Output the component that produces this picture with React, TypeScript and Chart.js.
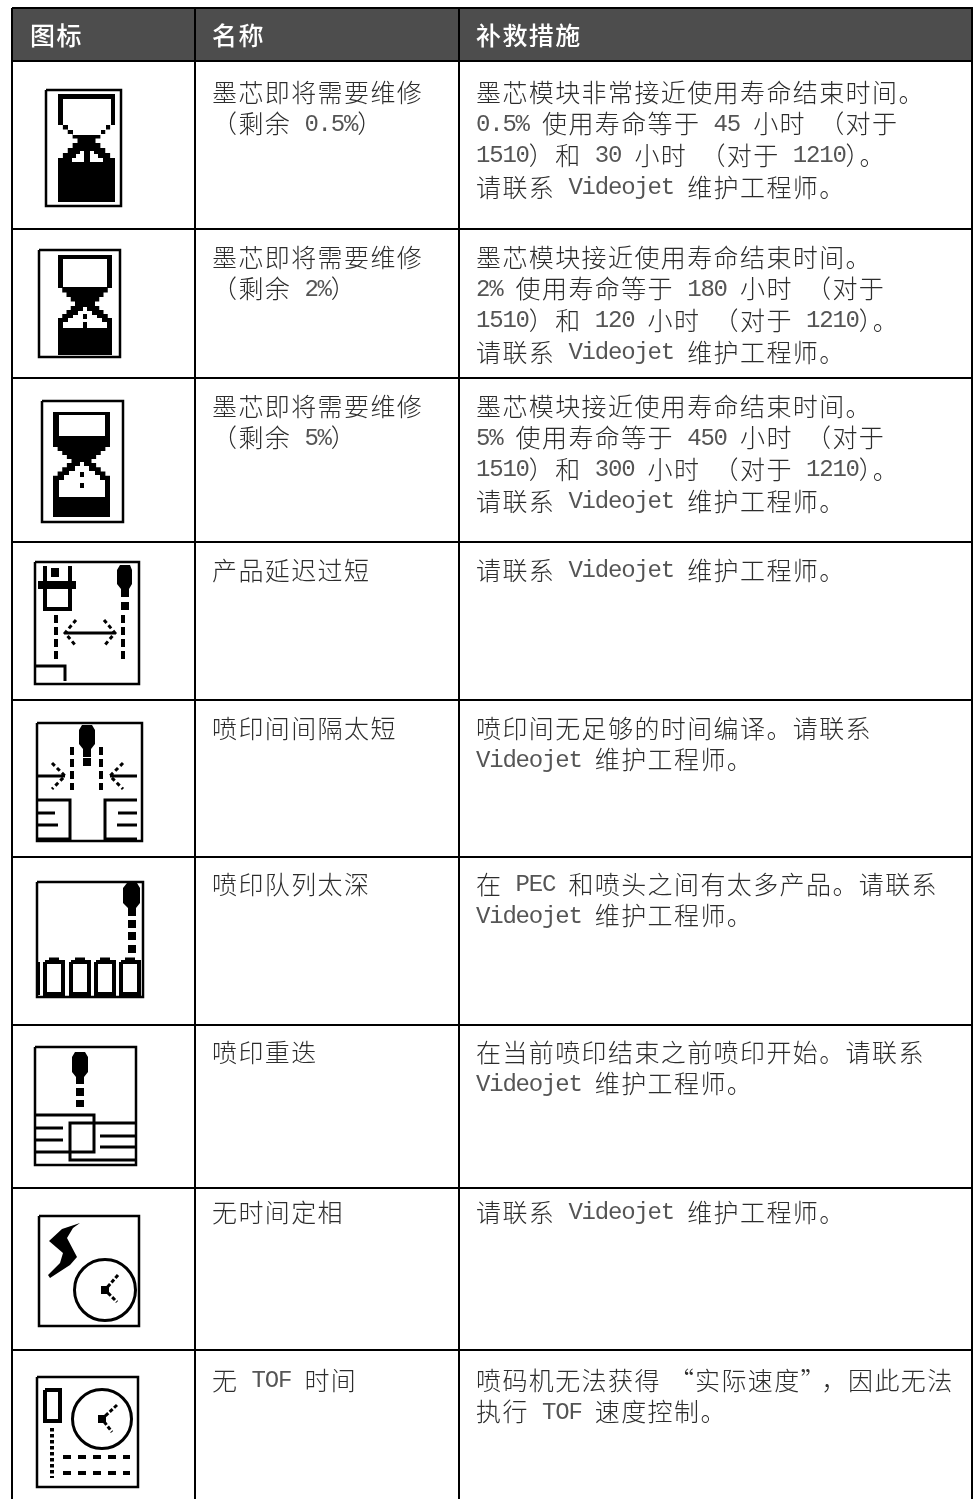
import React, { useEffect, useRef } from "react";
import { Chart, registerables } from "chart.js";

Chart.register(...registerables);

type P = [number, number];

const columnLines = [12, 195, 459, 972];
const rowLines = [8, 61, 229, 378, 542, 700, 857, 1025, 1188, 1350];

const headers = ["图标", "名称", "补救措施"];
const textColumns = [212, 476];
const headerColumns = [30, 212, 476];
const firstLineCentres = [92, 257, 406, 570, 728, 884, 1052, 1212, 1380];
const lineCentreOffsets = [0, 31.5, 63, 95];

const names = [
  ["墨芯即将需要维修", "（剩余 0.5%）"],
  ["墨芯即将需要维修", "（剩余 2%）"],
  ["墨芯即将需要维修", "（剩余 5%）"],
  ["产品延迟过短"],
  ["喷印间间隔太短"],
  ["喷印队列太深"],
  ["喷印重迭"],
  ["无时间定相"],
  ["无 TOF 时间"],
];
const remedies = [
  ["墨芯模块非常接近使用寿命结束时间。", "0.5% 使用寿命等于 45 小时 （对于", "1510）和 30 小时 （对于 1210）。", "请联系 Videojet 维护工程师。"],
  ["墨芯模块接近使用寿命结束时间。", "2% 使用寿命等于 180 小时 （对于", "1510）和 120 小时 （对于 1210）。", "请联系 Videojet 维护工程师。"],
  ["墨芯模块接近使用寿命结束时间。", "5% 使用寿命等于 450 小时 （对于", "1510）和 300 小时 （对于 1210）。", "请联系 Videojet 维护工程师。"],
  ["请联系 Videojet 维护工程师。"],
  ["喷印间无足够的时间编译。请联系", "Videojet 维护工程师。"],
  ["在 PEC 和喷头之间有太多产品。请联系", "Videojet 维护工程师。"],
  ["在当前喷印结束之前喷印开始。请联系", "Videojet 维护工程师。"],
  ["请联系 Videojet 维护工程师。"],
  ["喷码机无法获得 “实际速度”，因此无法", "执行 TOF 速度控制。"],
];

const iconFrames: [number, number, number, number][] = [
  [46, 90, 121, 206],
  [39, 250, 120, 357],
  [42, 401, 123, 522],
  [35, 562, 139, 684],
  [37, 723, 142, 841],
  [37, 882, 143, 997],
  [35, 1047, 136, 1165],
  [39, 1216, 139, 1326],
  [37, 1377, 138, 1487],
];

// left, right, top, side end, waist, side start, bottom, waist half-width
const hourglasses = [
  [58, 115, 94, 125, 143, 163, 202, 9],
  [58, 112, 255, 288, 306, 322, 355, 10],
  [53, 110, 412, 447, 463, 480, 517, 10],
];

const blackShapes: P[][] = [
  [[38, 581], [76, 581], [76, 589], [38, 589]],
  [[51, 568], [59, 568], [59, 577], [51, 577]],
  [[120, 565], [130, 565], [132, 570], [132, 584], [129, 589], [129, 597], [121, 597], [121, 589], [117, 584], [117, 570]],
  [[121, 602], [129, 602], [129, 610], [121, 610]],
  [[82, 725], [92, 725], [95, 730], [95, 744], [91, 749], [91, 757], [83, 757], [83, 749], [79, 744], [79, 730]],
  [[83, 758], [91, 758], [91, 766], [83, 766]],
  [[127, 883], [137, 883], [140, 888], [140, 903], [136, 908], [136, 916], [128, 916], [128, 908], [123, 903], [123, 888]],
  [[128, 920], [136, 920], [136, 928], [128, 928]],
  [[128, 932], [136, 932], [136, 940], [128, 940]],
  [[128, 945], [136, 945], [136, 953], [128, 953]],
  [[75, 1052], [85, 1052], [88, 1057], [88, 1072], [84, 1077], [84, 1084], [76, 1084], [76, 1077], [72, 1072], [72, 1057]],
  [[76, 1088], [84, 1088], [84, 1096], [76, 1096]],
  [[76, 1100], [84, 1100], [84, 1107], [76, 1107]],
  [[80, 1223], [73, 1228], [67, 1238], [77, 1257], [70, 1265], [50, 1278], [48, 1275], [60, 1263], [63, 1253], [49, 1241], [62, 1229]],
  [[101, 1286], [109, 1286], [109, 1294], [101, 1294]],
  [[98, 1415], [106, 1415], [106, 1423], [98, 1423]],
];

const whiteShapes: P[][] = [
  [[63, 99], [111, 99], [111, 125], [106, 125], [106, 130], [101, 130], [101, 135], [73, 135], [73, 130], [68, 130], [68, 125], [63, 125]],
  [[72, 162], [72, 158], [76, 158], [76, 154], [80, 154], [80, 151], [84, 151], [84, 162]],
  [[90, 162], [90, 151], [94, 151], [94, 154], [98, 154], [98, 158], [103, 158], [103, 162]],
  [[63, 259], [107, 259], [107, 287], [63, 287]],
  [[83, 307], [87, 307], [87, 311], [92, 311], [92, 315], [97, 315], [97, 318], [102, 318], [102, 322], [107, 322], [107, 328], [63, 328], [63, 322], [68, 322], [68, 318], [73, 318], [73, 315], [78, 315], [78, 311], [83, 311]],
  [[59, 415], [105, 415], [105, 436], [59, 436]],
  [[80, 462], [84, 462], [84, 466], [89, 466], [89, 471], [95, 471], [95, 475], [100, 475], [100, 480], [105, 480], [105, 497], [59, 497], [59, 480], [64, 480], [64, 475], [69, 475], [69, 471], [75, 471], [75, 466], [80, 466]],
];

const dotShapes: P[][] = [
  [[83, 314], [87, 314], [87, 319], [83, 319]],
  [[83, 322], [87, 322], [87, 328], [83, 328]],
  [[80, 472], [84, 472], [84, 477], [80, 477]],
  [[80, 483], [84, 483], [84, 488], [80, 488]],
];

const solidStrokes: { w: number; pts: P[] }[] = [
  { w: 4, pts: [[45, 566], [45, 609], [70, 609], [70, 566]] },
  { w: 3, pts: [[65, 633], [115, 633]] },
  { w: 3, pts: [[36, 666], [65, 666], [65, 681]] },
  { w: 3, pts: [[38, 776], [65, 776]] },
  { w: 3, pts: [[137, 776], [110, 776]] },
  { w: 3, pts: [[38, 800], [70, 800], [70, 839], [38, 839]] },
  { w: 3, pts: [[38, 813], [55, 813]] },
  { w: 3, pts: [[38, 825], [58, 825]] },
  { w: 3, pts: [[137, 800], [105, 800], [105, 839], [137, 839]] },
  { w: 3, pts: [[118, 813], [137, 813]] },
  { w: 3, pts: [[117, 825], [137, 825]] },
  { w: 4, pts: [[38, 962], [38, 995]] },
  { w: 4, pts: [[45, 962], [63, 962], [63, 994], [45, 994], [45, 962]] },
  { w: 4, pts: [[71, 962], [89, 962], [89, 994], [71, 994], [71, 962]] },
  { w: 4, pts: [[96, 962], [114, 962], [114, 994], [96, 994], [96, 962]] },
  { w: 4, pts: [[121, 962], [139, 962], [139, 994], [121, 994], [121, 962]] },
  { w: 5, pts: [[49, 960], [59, 960]] },
  { w: 5, pts: [[75, 960], [85, 960]] },
  { w: 5, pts: [[100, 960], [110, 960]] },
  { w: 5, pts: [[125, 960], [135, 960]] },
  { w: 3, pts: [[36, 1115], [94, 1115], [94, 1152], [36, 1152]] },
  { w: 3, pts: [[135, 1123], [70, 1123], [70, 1160], [135, 1160]] },
  { w: 3, pts: [[36, 1128], [63, 1128]] },
  { w: 3, pts: [[36, 1140], [63, 1140]] },
  { w: 3, pts: [[100, 1136], [135, 1136]] },
  { w: 3, pts: [[100, 1147], [135, 1147]] },
  { w: 4, pts: [[45, 1390], [60, 1390], [60, 1421], [45, 1421], [45, 1390]] },
];

const dashedStrokes: { w: number; dash: number[]; pts: P[] }[] = [
  { w: 4, dash: [8, 4], pts: [[56, 615], [56, 660]] },
  { w: 4, dash: [8, 4], pts: [[123, 615], [123, 660]] },
  { w: 3, dash: [4, 3], pts: [[76, 620], [65, 633], [76, 646]] },
  { w: 3, dash: [4, 3], pts: [[104, 620], [115, 633], [104, 646]] },
  { w: 4, dash: [8, 4], pts: [[72, 747], [72, 790]] },
  { w: 4, dash: [8, 4], pts: [[101, 747], [101, 790]] },
  { w: 3, dash: [4, 3], pts: [[52, 763], [65, 776], [52, 789]] },
  { w: 3, dash: [4, 3], pts: [[123, 763], [110, 776], [123, 789]] },
  { w: 3, dash: [4, 2], pts: [[118, 1275], [105, 1290], [117, 1302]] },
  { w: 3, dash: [4, 2], pts: [[117, 1405], [102, 1419], [112, 1432]] },
  { w: 4, dash: [3.5, 2.5], pts: [[52, 1428], [52, 1478]] },
  { w: 4, dash: [8, 7], pts: [[63, 1457], [130, 1457]] },
  { w: 4, dash: [8, 7], pts: [[63, 1473], [130, 1473]] },
];

const clockFaces: { x: number; y: number; r: number }[] = [
  { x: 105, y: 1290, r: 30.5 },
  { x: 102, y: 1419, r: 29.5 },
];

const headerBand: P[] = [[12, 8], [972, 8], [972, 61], [12, 61]];
const headerColour = "#4d4d4d";
const textColour = "#2c2c2c";
const latinColour = "#555555";

function toData(pts: P[]) {
  return pts.map(([x, y]) => ({ x, y }));
}
function shape(pts: P[], colour: string) {
  return {
    data: toData(pts), showLine: true, fill: "shape", backgroundColor: colour,
    borderColor: colour, borderWidth: 0, pointRadius: 0, tension: 0,
  };
}
function stroke(pts: P[], w: number, dash: number[] = []) {
  return {
    data: toData(pts), showLine: true, fill: false, borderColor: "#000", borderWidth: w,
    borderDash: dash, pointRadius: 0, tension: 0, borderCapStyle: "butt", borderJoinStyle: "miter",
  };
}
function glassOutline([l, r, top, s1, waist, s2, bottom, half]: number[]): P[] {
  const mid = (l + r) / 2;
  const stepX = (mid - half - l) / 4;
  const upper = (s1 - waist) / 4;
  const lower = (s2 - waist) / 4;
  const left: P[] = [[l, top], [l, s1]];
  for (let i = 1; i <= 4; i++) {
    left.push([l + stepX * i, s1 - upper * (i - 1)], [l + stepX * i, s1 - upper * i]);
  }
  for (let i = 3; i >= 0; i--) {
    left.push([l + stepX * i, s2 - lower * (i + 1)], [l + stepX * i, s2 - lower * i]);
  }
  left.push([l, bottom]);
  const right: P[] = left.slice().reverse().map(([x, y]) => [l + r - x, y] as P);
  return [...left, ...right];
}

function drawRuns(ctx: CanvasRenderingContext2D, text: string, x: number, y: number, weight: number, body: boolean) {
  const base = ctx.fillStyle;
  const runs = text.match(/[\x00-\x7f]+|[“”]|[^\x00-\x7f“”]+/g) || [];
  let cursor = x;
  for (const run of runs) {
    if (/^[\x00-\x7f]/.test(run)) {
      ctx.font = '24px "Liberation Mono"';
      (ctx as any).letterSpacing = "-1.2px";
      if (body) ctx.fillStyle = latinColour;
      ctx.fillText(run, cursor, y + 1);
      ctx.fillStyle = base;
      cursor += run.length * 13.2;
    } else {
      ctx.font = `${weight} 25px "Noto Sans CJK SC"`;
      (ctx as any).letterSpacing = "1.4px";
      if (run === "“") {
        ctx.fillText(run, cursor - 5, y);
        cursor += 21;
      } else if (run === "”") {
        ctx.fillText(run, cursor, y);
        cursor += 21;
      } else {
        ctx.fillText(run, cursor, y);
        cursor += run.length * 26.4;
      }
    }
  }
}

const tablePlugin = {
  id: "tableText",
  afterDraw(chart: any) {
    const { ctx, scales } = chart;
    const px = (v: number) => scales.x.getPixelForValue(v);
    const py = (v: number) => scales.y.getPixelForValue(v);
    ctx.save();
    ctx.textBaseline = "middle";
    ctx.textAlign = "left";
    ctx.fillStyle = "#ffffff";
    headers.forEach((h, i) => drawRuns(ctx, h, px(headerColumns[i]), py(35), 500, false));
    ctx.fillStyle = textColour;
    firstLineCentres.forEach((top, r) => {
      names[r].forEach((t, i) => drawRuns(ctx, t, px(textColumns[0]), py(top + lineCentreOffsets[i]), 300, true));
      remedies[r].forEach((t, i) => drawRuns(ctx, t, px(textColumns[1]), py(top + lineCentreOffsets[i]), 300, true));
    });
    ctx.restore();
  },
};

export default function App() {
  const ref = useRef<HTMLCanvasElement>(null);
  useEffect(() => {
    if (!ref.current) return;
    const list: any[] = [
      shape(headerBand, headerColour),
      ...iconFrames.map(([a, b, c, d]) => stroke([[a, b], [c, b], [c, d], [a, d], [a, b]], 2.5)),
      ...hourglasses.map((g) => shape(glassOutline(g), "#000")),
      ...blackShapes.map((s) => shape(s, "#000")),
      ...whiteShapes.map((s) => shape(s, "#fff")),
      ...dotShapes.map((s) => shape(s, "#000")),
      ...solidStrokes.map((s) => stroke(s.pts, s.w)),
      ...dashedStrokes.map((s) => stroke(s.pts, s.w, s.dash)),
      ...clockFaces.map((c) => ({
        data: [{ x: c.x, y: c.y }], showLine: false, pointStyle: "circle", pointRadius: c.r,
        pointBorderWidth: 3, pointBorderColor: "#000", pointBackgroundColor: "rgba(0,0,0,0)",
      })),
    ];
    const datasets = list.map((d, i) => ({ ...d, order: list.length - i, clip: false }));
    const chart = new Chart(ref.current, {
      type: "scatter",
      data: { datasets },
      plugins: [tablePlugin],
      options: {
        animation: false,
        responsive: false,
        layout: { autoPadding: false, padding: { left: 12, top: 8, right: 0, bottom: 0 } },
        plugins: { legend: { display: false }, tooltip: { enabled: false }, title: { display: false } },
        events: [],
        scales: {
          x: {
            type: "linear", min: 12, max: 973,
            afterBuildTicks: (a: any) => { a.ticks = columnLines.map((value) => ({ value })); },
            ticks: { display: false, autoSkip: false },
            grid: { color: "#000", lineWidth: 2, drawTicks: false, z: 1 },
            border: { display: false },
          },
          y: {
            type: "linear", reverse: true, min: 8, max: 1499,
            afterBuildTicks: (a: any) => { a.ticks = rowLines.map((value) => ({ value })); },
            ticks: { display: false, autoSkip: false },
            grid: { color: "#000", lineWidth: 2, drawTicks: false, z: 1 },
            border: { display: false },
          },
        },
      } as any,
    } as any);
    return () => chart.destroy();
  }, []);
  return (
    <div style={{ position: "absolute", left: 0, top: 0, width: 973, height: 1499, background: "#fff" }}>
      <canvas ref={ref} width={973} height={1499} style={{ display: "block" }} />
    </div>
  );
}
